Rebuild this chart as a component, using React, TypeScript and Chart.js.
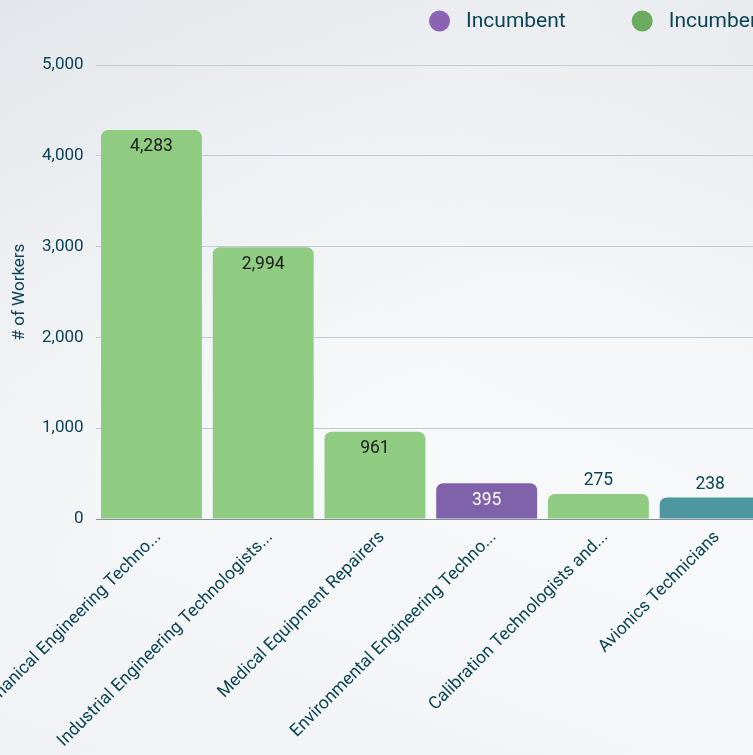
import React, { useEffect, useRef } from "react";
import { Chart, registerables } from "chart.js";

Chart.register(...registerables);

const categories = [
  "Mechanical Engineering Techno...",
  "Industrial Engineering Technologists...",
  "Medical Equipment Repairers",
  "Environmental Engineering Techno...",
  "Calibration Technologists and...",
  "Avionics Technicians",
];

const seriesNames = ["Incumbent", "Incumbent & Emerging", "Emerging"];
const incumbentValues = [null, null, null, 395, null, null];
const incumbentEmergingValues = [4283, 2994, 961, null, 275, null];
const emergingValues = [null, null, null, null, null, 238];

const yTicks = { min: 0, max: 5000, step: 1000 };

const barColors = ["#8062aa", "#90cb82", "#4e97a1"];
const legendColors = ["#8a63b3", "#6aab5e", "#4e97a1"];
const TEXT = "#0b4454";
const FONT = "Roboto, 'Noto Sans', sans-serif";

const valueLabels = {
  id: "valueLabels",
  afterDatasetsDraw(chart: any) {
    const ctx = chart.ctx;
    ctx.save();
    ctx.font = `17.5px ${FONT}`;
    ctx.textAlign = "center";
    ctx.textBaseline = "middle";
    chart.data.datasets.forEach((ds: any, di: number) => {
      const meta = chart.getDatasetMeta(di);
      meta.data.forEach((el: any, i: number) => {
        const v = ds.data[i];
        if (v === null || v === undefined) return;
        const h = el.base - el.y;
        const txt = Number(v).toLocaleString("en-US");
        if (h >= 30) {
          ctx.fillStyle = di === 0 ? "#ffffff" : "#1a1a1a";
          ctx.fillText(txt, el.x, el.y + 17);
        } else {
          ctx.fillStyle = TEXT;
          ctx.fillText(txt, el.x, el.y - 13);
        }
      });
    });
    ctx.restore();
  },
};

const customLegend = {
  id: "customLegend",
  afterDraw(chart: any) {
    const ctx = chart.ctx;
    ctx.save();
    ctx.font = `21px ${FONT}`;
    ctx.textBaseline = "middle";
    ctx.textAlign = "left";
    let x = 429;
    const cy = 21;
    const r = 10.5;
    chart.data.datasets.forEach((ds: any, i: number) => {
      ctx.fillStyle = legendColors[i];
      ctx.beginPath();
      ctx.arc(x + r, cy, r, 0, Math.PI * 2);
      ctx.fill();
      ctx.fillStyle = TEXT;
      const tx = x + 37;
      ctx.fillText(ds.label, tx, cy + 1);
      x = tx + ctx.measureText(ds.label).width + 66;
    });
    ctx.restore();
  },
};

export default function App() {
  const ref = useRef<HTMLCanvasElement>(null);
  useEffect(() => {
    const canvas = ref.current!;
    const chart = new Chart(canvas, {
      type: "bar",
      data: {
        labels: categories,
        datasets: [
          { label: seriesNames[0], data: incumbentValues, backgroundColor: barColors[0] },
          { label: seriesNames[1], data: incumbentEmergingValues, backgroundColor: barColors[1] },
          { label: seriesNames[2], data: emergingValues, backgroundColor: barColors[2] },
        ] as any,
      },
      options: {
        responsive: false,
        animation: false,
        devicePixelRatio: 1,
        layout: { padding: { top: 65, left: 7, right: 9, bottom: 0 } },
        datasets: {
          bar: {
            barPercentage: 0.903,
            categoryPercentage: 1,
            borderRadius: 7,
            borderSkipped: "start",
            skipNull: true,
          },
        } as any,
        plugins: {
          legend: { display: false },
          tooltip: { enabled: false },
        },
        scales: {
          x: {
            stacked: true,
            grid: { display: false },
            border: { display: false },
            ticks: {
              autoSkip: false,
              minRotation: 45,
              maxRotation: 45,
              padding: 0,
              labelOffset: 7,
              color: TEXT,
              font: { family: FONT, size: 17.5 },
            },
            afterFit: (scale: any) => {
              scale.height = 236;
              scale.paddingLeft = 0;
              scale.paddingRight = 0;
            },
          },
          y: {
            stacked: true,
            min: yTicks.min,
            max: yTicks.max,
            border: { display: false },
            grid: {
              drawTicks: false,
              color: (c: any) => (c.tick && c.tick.value === 0 ? "#7f9098" : "#bfcad2"),
              lineWidth: 1,
            },
            ticks: {
              stepSize: yTicks.step,
              padding: 12,
              color: TEXT,
              font: { family: FONT, size: 17 },
            },
            title: {
              display: true,
              text: "# of Workers",
              color: TEXT,
              font: { family: FONT, size: 17 },
              padding: { top: 3, bottom: 4 },
            },
            afterFit: (scale: any) => {
              scale.width = 88.6;
            },
          },
        },
      },
      plugins: [valueLabels, customLegend],
    });
    return () => chart.destroy();
  }, []);

  return (
    <div
      style={{
        position: "fixed",
        left: 0,
        top: 0,
        width: 753,
        height: 755,
        overflow: "hidden",
        background:
          "linear-gradient(150deg, rgba(226,229,233,0.95) 0%, rgba(236,238,241,0.7) 28%, rgba(250,250,251,0) 52%), linear-gradient(205deg, rgba(228,231,234,0.9) 0%, rgba(242,243,245,0.3) 35%, rgba(250,250,251,0) 50%), linear-gradient(20deg, rgba(240,241,243,0.9) 0%, rgba(250,250,251,0) 40%), #f7f8f9",
      }}
    >
      <canvas ref={ref} width={775} height={755} style={{ display: "block", width: 775, height: 755 }} />
    </div>
  );
}
